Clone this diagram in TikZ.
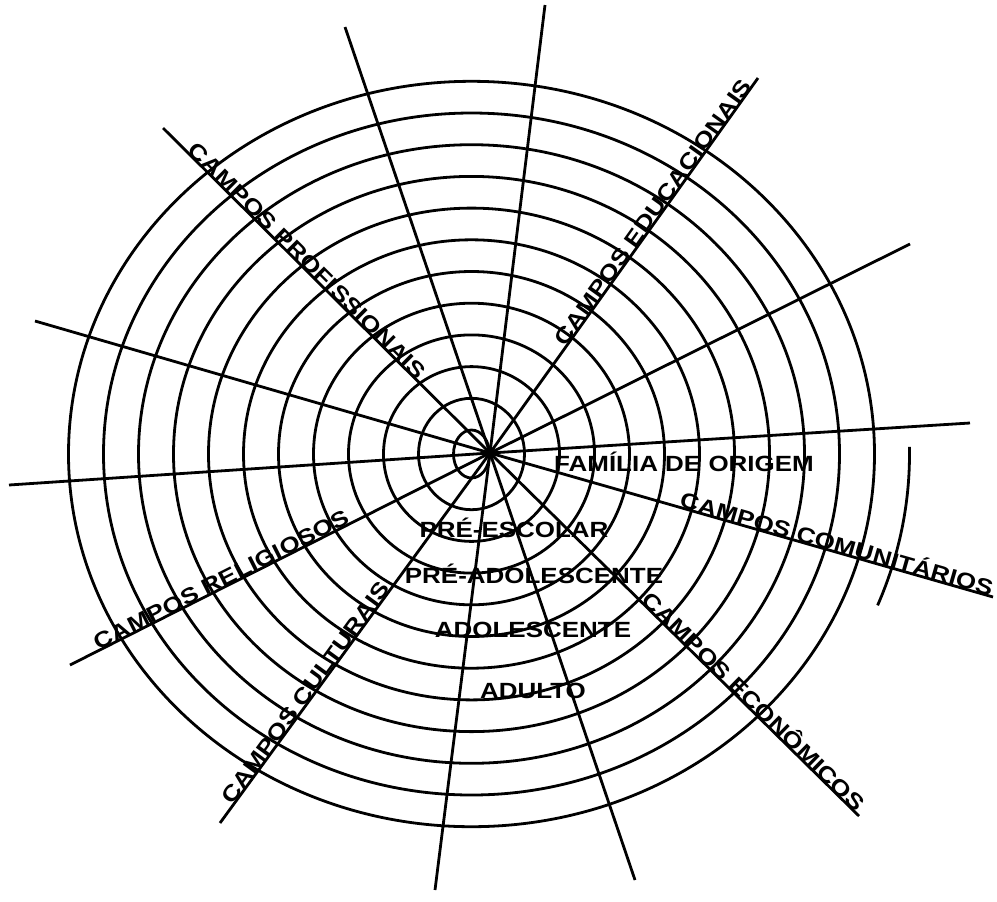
\documentclass[tikz,border=0pt]{standalone}
\usepackage{fontspec}
\setmainfont{Liberation Sans}
\newfontfamily\webfont[FakeStretch=1.18]{Liberation Sans}
\usetikzlibrary{calc}
\tikzset{
  ring/.style={draw=black, line width=1.4pt},
  spoke/.style={draw=black, line width=1.4pt},
  fieldlabel/.style={sloped, anchor=base, inner sep=0pt,
    font=\webfont\bfseries\fontsize{11}{13}\selectfont},
  agelabel/.style={anchor=base, inner sep=0pt,
    font=\webfont\bfseries\fontsize{11}{13}\selectfont}
}

\begin{document}
\begin{tikzpicture}[x=0.5pt, y=-0.5pt]
  \useasboundingbox (0,0) rectangle (997,901);
  \coordinate (hub) at (490,453);
  \coordinate (ringc) at (471.5,454);

  \foreach \k in {1,...,12}
    \draw[ring] (ringc) ellipse [x radius={35*\k-17}, y radius={31.7*\k-7.7}];
  \draw[ring] (ringc) ++(-1:438 and 404) arc [start angle=-1, end angle=22, x radius=438, y radius=404];

  \coordinate (n) at (545,5);
  \coordinate (nnw) at (345,27);
  \coordinate (prof) at (163,128);
  \coordinate (wnw) at (35,321);
  \coordinate (w) at (9,485);
  \coordinate (relig) at (70,665);
  \coordinate (cult) at (220,823);
  \coordinate (s) at (435,890);
  \coordinate (sse) at (635,880);
  \coordinate (econ) at (859,816);
  \coordinate (comun) at (993,597);
  \coordinate (e) at (970,423);
  \coordinate (ene) at (910,244);
  \coordinate (educ) at (758,78);

  \foreach \p in {n,nnw,wnw,w,s,sse,e,ene}
    \draw[spoke] (hub) -- (\p);
  \draw[spoke] (hub) -- (prof) node[fieldlabel, pos=0.575] (lprof) {CAMPOS PROFISSIONAIS};
  \draw[spoke] (hub) -- (educ) node[fieldlabel, pos=0.63] (leduc) {CAMPOS EDUCACIONAIS};
  \draw[spoke] (hub) -- (comun) node[fieldlabel, pos=0.685] (lcomun) {CAMPOS COMUNITÁRIOS};
  \draw[spoke] (hub) -- (econ) node[fieldlabel, pos=0.70] (lecon) {CAMPOS ECONÔMICOS};
  \draw[spoke] (hub) -- (relig) node[fieldlabel, pos=0.631] (lrelig) {CAMPOS RELIGIOSOS};
  \draw[spoke] (hub) -- (cult) node[fieldlabel, pos=0.66] (lcult) {CAMPOS CULTURAIS};

  \node[agelabel] (familia) at (684,471) {FAMÍLIA DE ORIGEM};
  \node[agelabel] (preesc) at (514,537) {PRÉ-ESCOLAR};
  \node[agelabel] (preado) at (534,583) {PRÉ-ADOLESCENTE};
  \node[agelabel] (adol) at (533,637) {ADOLESCENTE};
  \node[agelabel] (adulto) at (533,698) {ADULTO};
\end{tikzpicture}
\end{document}
